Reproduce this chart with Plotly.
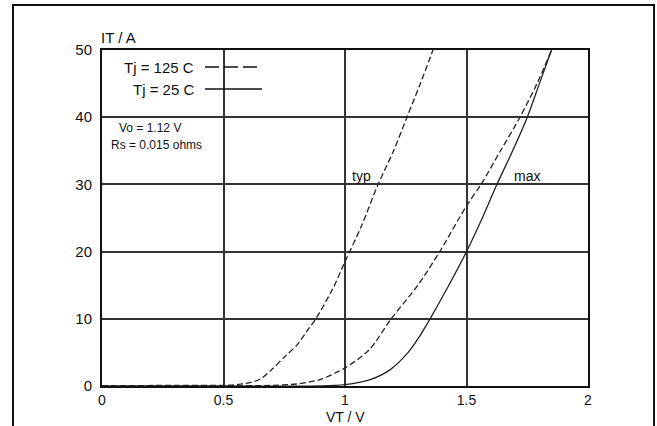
import plotly.graph_objects as go

# ---- data ----
typ_125_v = [0, 0.3, 0.5, 0.58, 0.65, 0.7, 0.75, 0.8, 0.85, 0.88, 0.95, 1.0, 1.07, 1.136, 1.2, 1.255, 1.31, 1.362]
typ_125_i = [0, 0.1, 0.1, 0.3, 1.0, 2.5, 4.3, 6.0, 8.5, 10, 14.5, 18.5, 24, 30, 35, 40, 45, 50]

max_125_v = [0, 0.5, 0.7, 0.8, 0.9, 1.0, 1.1, 1.19, 1.3, 1.39, 1.5, 1.56, 1.64, 1.72, 1.79, 1.85]
max_125_i = [0, 0, 0.1, 0.3, 1.0, 2.7, 5.4, 10, 15, 20, 26.8, 30, 35, 40, 45, 50]

max_25_v = [0, 0.5, 0.9, 1.0, 1.1, 1.185, 1.26, 1.3, 1.35, 1.42, 1.5, 1.565, 1.625, 1.69, 1.75, 1.8, 1.85]
max_25_i = [0, 0, 0, 0.2, 0.9, 2.4, 5, 7, 10, 14.5, 20, 25, 30, 35, 40, 45, 50]

x_ticks = [0, 0.5, 1, 1.5, 2]
x_tick_labels = ["0", "0.5", "1", "1.5", "2"]
y_ticks = [0, 10, 20, 30, 40, 50]
y_tick_labels = ["0", "10", "20", "30", "40", "50"]

FONT = "Liberation Sans, Arial, sans-serif"
DASH = "6px,3px"

fig = go.Figure()
fig.add_trace(go.Scatter(x=typ_125_v, y=typ_125_i, mode="lines",
                         line=dict(color="#222", width=1.3, dash=DASH, shape="spline", smoothing=0.8),
                         showlegend=False))
fig.add_trace(go.Scatter(x=max_125_v, y=max_125_i, mode="lines",
                         line=dict(color="#222", width=1.3, dash=DASH, shape="spline", smoothing=0.8),
                         showlegend=False))
fig.add_trace(go.Scatter(x=max_25_v, y=max_25_i, mode="lines",
                         line=dict(color="#222", width=1.3, shape="spline", smoothing=0.8),
                         showlegend=False))

fig.update_xaxes(range=[0, 2], tickvals=x_ticks, ticktext=x_tick_labels,
                 showgrid=True, gridcolor="#333", gridwidth=2, zeroline=False,
                 showline=True, linecolor="#111", linewidth=2, mirror=True,
                 ticks="", ticklabelstandoff=0,
                 tickfont=dict(family=FONT, size=14, color="#111"))
fig.update_yaxes(range=[0, 50], tickvals=y_ticks, ticktext=y_tick_labels,
                 showgrid=True, gridcolor="#333", gridwidth=2, zeroline=False,
                 showline=True, linecolor="#111", linewidth=2, mirror=True,
                 ticks="", ticklabelstandoff=5,
                 tickfont=dict(family=FONT, size=15, color="#111"))

def px2x(px):
    return (px - 102) / 486.0

def py2y(py):
    return (386 - py) / 336.0

annotations = [
    dict(text="IT / A", x=px2x(99), y=py2y(38), xanchor="left", yanchor="middle", size=15),
    dict(text="VT / V", x=0.5, y=py2y(427), xanchor="center", yanchor="bottom", size=14),
    dict(text="Tj = 125 C", x=px2x(196), y=py2y(67), xanchor="right", yanchor="middle", size=15),
    dict(text="Tj = 25 C", x=px2x(196), y=py2y(89), xanchor="right", yanchor="middle", size=15),
    dict(text="Vo = 1.12 V", x=px2x(117), y=py2y(128), xanchor="left", yanchor="middle", size=12),
    dict(text="Rs = 0.015 ohms", x=px2x(109), y=py2y(145), xanchor="left", yanchor="middle", size=12),
    dict(text="typ", x=px2x(350), y=py2y(176), xanchor="left", yanchor="middle", size=14),
    dict(text="max", x=px2x(512), y=py2y(176), xanchor="left", yanchor="middle", size=14),
]
fig.update_layout(annotations=[
    dict(text=a["text"], x=a["x"], y=a["y"], xref="paper", yref="paper",
         xanchor=a["xanchor"], yanchor=a["yanchor"], showarrow=False,
         font=dict(family=FONT, size=a["size"], color="#111"))
    for a in annotations
])

shapes = [
    # legend samples
    dict(type="line", xref="paper", yref="paper", x0=px2x(205), x1=px2x(262),
         y0=py2y(67), y1=py2y(67), line=dict(color="#111", width=1.5, dash="14px,5px")),
    dict(type="line", xref="paper", yref="paper", x0=px2x(205), x1=px2x(262),
         y0=py2y(89), y1=py2y(89), line=dict(color="#111", width=1.5)),
    # outer frame (open at the bottom)
    dict(type="path", xref="paper", yref="paper",
         path=f"M {px2x(13)} {py2y(440)} L {px2x(13)} {py2y(5)} L {px2x(654)} {py2y(5)} L {px2x(654)} {py2y(440)}",
         line=dict(color="#111", width=2)),
]
fig.update_layout(shapes=shapes)

fig.update_layout(width=657, height=426,
                  margin=dict(l=102, r=69, t=50, b=40),
                  paper_bgcolor="white", plot_bgcolor="white",
                  showlegend=False)

fig.write_html("out.html")
